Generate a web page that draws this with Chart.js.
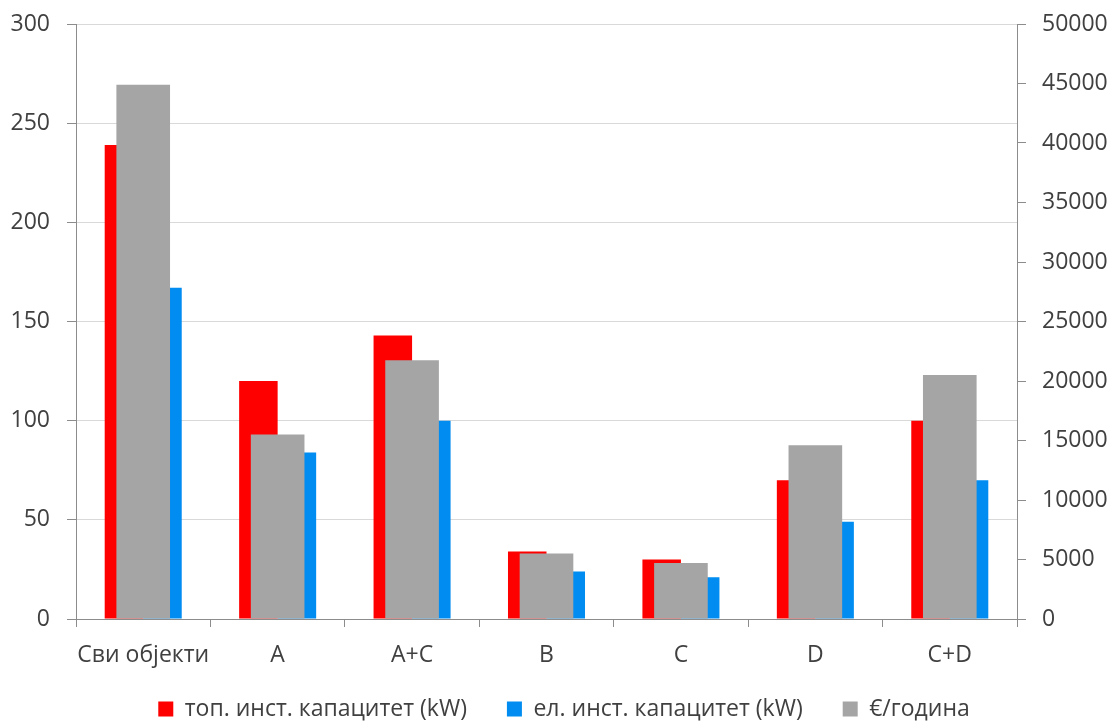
<!DOCTYPE html>
<html>
<head>
<meta charset="utf-8">
<script src="https://cdn.jsdelivr.net/npm/chart.js@4/dist/chart.umd.min.js"></script>
<style>
  html, body { margin: 0; padding: 0; background: #ffffff; }
  #wrap { width: 1113px; height: 722px; }
</style>
</head>
<body>
<div id="wrap"><canvas id="c" width="1113" height="722"></canvas></div>
<script>
// Categories (building groups)
const categories = ['Сви објекти', 'A', 'A+C', 'B', 'C', 'D', 'C+D'];

// Installed capacities, kW (left axis)
const heatCapacity = [239, 120, 143, 34, 30, 70, 100];
const elecCapacity = [167, 84, 100, 24, 21, 49, 70];

// Annual cost, €/year (right axis)
const annualCost = [44900, 15500, 21750, 5500, 4700, 14600, 20500];

// Series names
const seriesNames = ['топ. инст. капацитет (kW)', 'ел. инст. капацитет (kW)', '€/година'];

// Axis ranges
const leftAxis = { min: 0, max: 300, step: 50 };
const rightAxis = { min: 0, max: 50000, step: 5000 };

const textColor = '#404040';
const axisColor = '#8c8c8c';
const gridColor = '#d9d9d9';
const font = { family: "'Open Sans', 'Noto Sans', sans-serif", size: 23 };

// Adjusts the legend box after layout: raises its top edge, so that the wide
// horizontal spacing between items does not need as much vertical room,
// and nudges the row sideways.
const legendShift = {
  id: 'legendShift',
  afterLayout(chart, args, opts) {
    const lg = chart.legend;
    if (lg) {
      lg.top += opts.dy;
      lg.height -= opts.dy;
      lg.left += opts.dx;
    }
  }
};

// Fixed width for a vertical axis; only half a label is needed above/below.
const fitVertical = (width) => (s) => {
  s.width = width;
  s.paddingTop = 14;
  s.paddingBottom = 14;
};

new Chart(document.getElementById('c'), {
  type: 'bar',
  plugins: [legendShift],
  data: {
    labels: categories,
    datasets: [
      {
        label: seriesNames[0],
        data: heatCapacity,
        backgroundColor: '#ff0000',
        yAxisID: 'y',
        categoryPercentage: 0.573,
        barPercentage: 1,
        order: 1
      },
      {
        label: seriesNames[1],
        data: elecCapacity,
        backgroundColor: '#008cf0',
        yAxisID: 'y',
        categoryPercentage: 0.573,
        barPercentage: 1,
        order: 1
      },
      {
        label: seriesNames[2],
        data: annualCost,
        backgroundColor: '#a5a5a5',
        yAxisID: 'y1',
        grouped: false,
        categoryPercentage: 0.399,
        barPercentage: 1,
        order: 0
      }
    ]
  },
  options: {
    responsive: false,
    animation: false,
    layout: { padding: { top: 24, left: 0, right: 0, bottom: 0 } },
    plugins: {
      tooltip: { enabled: false },
      legendShift: { dy: -14.5, dx: 15 },
      legend: {
        position: 'bottom',
        maxHeight: 50,
        labels: {
          font: font,
          color: textColor,
          boxWidth: 15,
          boxHeight: 15,
          padding: 40,
          sort: (a, b) => a.datasetIndex - b.datasetIndex
        }
      }
    },
    scales: {
      x: {
        type: 'category',
        position: 'bottom',
        offset: true,
        afterFit: (s) => { s.height = 53; },
        grid: {
          display: true,
          drawOnChartArea: false,
          offset: true,
          tickLength: 8,
          tickColor: axisColor
        },
        border: { display: true, color: axisColor },
        ticks: { font: font, color: textColor, padding: 15, maxRotation: 0, autoSkip: false }
      },
      y: {
        position: 'left',
        min: leftAxis.min,
        max: leftAxis.max,
        afterFit: fitVertical(76),
        grid: {
          color: gridColor,
          tickColor: axisColor,
          tickLength: 9,
          lineWidth: 1
        },
        border: { display: true, color: axisColor },
        ticks: { stepSize: leftAxis.step, font: font, color: textColor, padding: 17 }
      },
      y1: {
        position: 'right',
        min: rightAxis.min,
        max: rightAxis.max,
        afterFit: fitVertical(96),
        grid: {
          drawOnChartArea: false,
          tickColor: axisColor,
          tickLength: 9
        },
        border: { display: true, color: axisColor },
        ticks: {
          stepSize: rightAxis.step,
          font: font,
          color: textColor,
          padding: 16,
          callback: (v) => String(v)
        }
      }
    }
  }
});
</script>
</body>
</html>
